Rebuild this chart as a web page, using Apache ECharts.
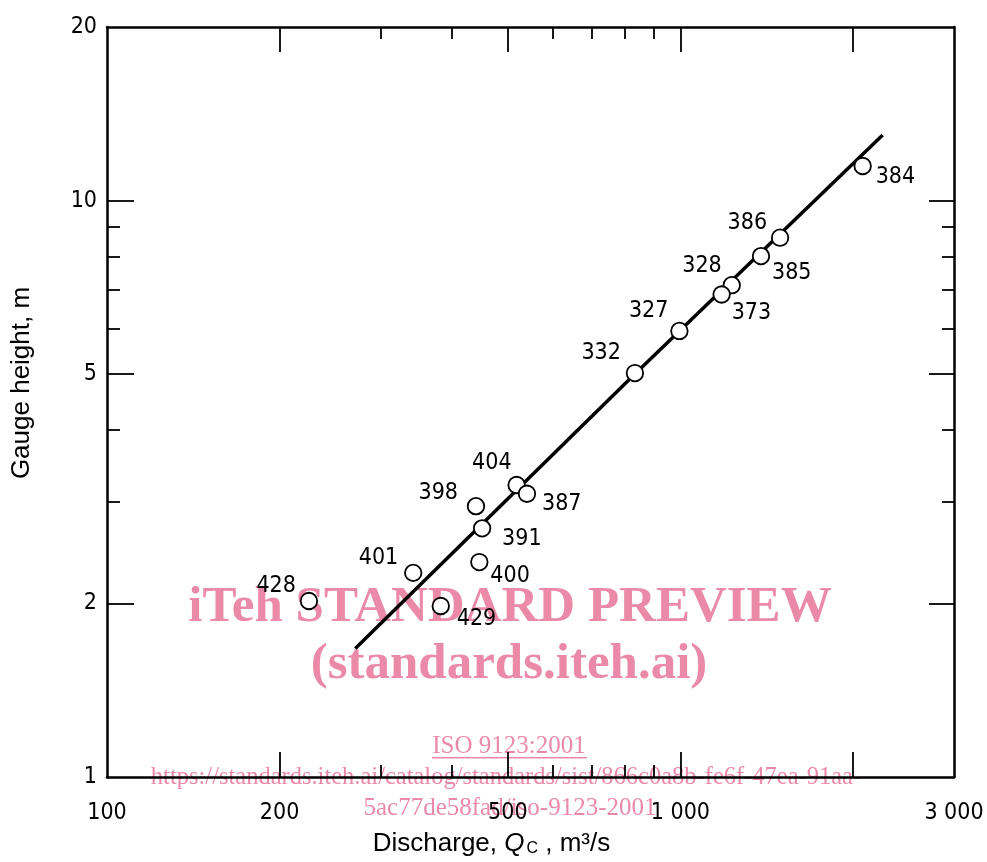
<!DOCTYPE html>
<html>
<head>
<meta charset="utf-8">
<script src="https://cdn.jsdelivr.net/npm/echarts@6/dist/echarts.min.js"></script>
<style>
  html, body { margin: 0; padding: 0; background: #fff; }
  #chart { width: 987px; height: 862px; }
</style>
</head>
<body>
<div id="chart"></div>
<script>
// ---- data ----
const xTickValues = [100, 200, 500, 1000, 3000];
const xTickLabels = ['100', '200', '500', '1 000', '3 000'];
const xMajorTicks = [200, 500, 1000, 2000];
const xMinorTicks = [300, 400, 600, 700, 800, 900];
const yTickValues = [1, 2, 5, 10, 20];
const yTickLabels = ['1', '2', '5', '10', '20'];
const yMajorTicks = [2, 5, 10];
const yMinorTicks = [3, 4, 6, 7, 8, 9];

const pointIds = ['384', '386', '385', '328', '373', '327', '332', '404', '387', '398', '391', '400', '401', '428', '429'];
const pointQ = [2079, 1492, 1382, 1229, 1180, 996, 833, 518, 540, 440, 451, 446, 342, 225, 382];
const pointH = [11.48, 8.62, 8.01, 7.13, 6.87, 5.94, 5.02, 3.21, 3.10, 2.95, 2.70, 2.36, 2.26, 2.02, 1.98];

const curveQ = [271, 833, 2253];
const curveH = [1.67, 5.0, 12.99];

// ---- label placement (style only) ----
const labelPlace = {
  '384': ['left', 13, 11], '386': ['right', -13, -15], '385': ['left', 11, 17],
  '328': ['right', -10, -19], '373': ['left', 10, 19], '327': ['right', -11, -20],
  '332': ['right', -14, -20], '404': ['right', -5, -22], '387': ['left', 15, 10],
  '398': ['right', -18, -13], '391': ['left', 20, 11], '400': ['left', 11, 14],
  '401': ['right', -15, -15], '428': ['right', -13, -15], '429': ['left', 16, 13]
};

const tickFont = "'Liberation Sans Narrow', 'DejaVu Sans Condensed', 'DejaVu Sans', sans-serif";
const titleFont = "'Liberation Sans', Arial, sans-serif";
const serifFont = "'Liberation Serif', 'Times New Roman', serif";
const pink = '#ea8aa8';

const chart = echarts.init(document.getElementById('chart'), null, { renderer: 'canvas' });

function xLabel(v) { const i = xTickValues.indexOf(v); return i >= 0 ? xTickLabels[i] : ''; }
function yLabel(v) { const i = yTickValues.indexOf(v); return i >= 0 ? yTickLabels[i] : ''; }

function makeAxis(kind, pos, ticks, len, withLine, withLabels) {
  const isX = kind === 'x';
  const ax = {
    type: 'log', logBase: 10,
    min: isX ? 100 : 1, max: isX ? 3000 : 20,
    position: pos,
    z: 5,
    axisLine: { show: withLine, onZero: false, lineStyle: { color: '#000', width: 2.5 } },
    axisTick: { show: true, inside: true, length: len, customValues: ticks, lineStyle: { color: '#000', width: 1.8 } },
    axisLabel: { show: false },
    splitLine: { show: false },
    minorTick: { show: false },
    minorSplitLine: { show: false }
  };
  if (withLabels) {
    ax.axisLabel = {
      show: true,
      customValues: isX ? xTickValues : yTickValues,
      formatter: isX ? xLabel : yLabel,
      color: '#000', fontFamily: tickFont, fontSize: 23,
      margin: isX ? 25 : 10,
      showMinLabel: true, showMaxLabel: true
    };
  }
  return ax;
}

const xAxes = [
  makeAxis('x', 'bottom', xMajorTicks, 25, true, true),
  makeAxis('x', 'bottom', xMinorTicks, 12, false, false),
  makeAxis('x', 'top', xMajorTicks, 25, true, false),
  makeAxis('x', 'top', xMinorTicks, 12, false, false)
];
xAxes[0].name = 'Discharge, {q|Q}{s|C} , m³/s';
xAxes[0].nameLocation = 'middle';
xAxes[0].nameGap = 54;
xAxes[0].nameTextStyle = {
  color: '#000', fontFamily: titleFont, fontSize: 26, padding: [0, 78, 0, 0],
  rich: {
    q: { fontFamily: titleFont, fontSize: 26, fontStyle: 'italic', color: '#000' },
    s: { fontFamily: titleFont, fontSize: 16, color: '#000', verticalAlign: 'bottom', padding: [0, 0, 0, 2] }
  }
};

const yAxes = [
  makeAxis('y', 'left', yMajorTicks, 27, true, true),
  makeAxis('y', 'left', yMinorTicks, 13, false, false),
  makeAxis('y', 'right', yMajorTicks, 25, true, false),
  makeAxis('y', 'right', yMinorTicks, 12, false, false)
];
yAxes[0].name = 'Gauge height, m';
yAxes[0].nameLocation = 'middle';
yAxes[0].nameGap = 72;
yAxes[0].nameTextStyle = { color: '#000', fontFamily: titleFont, fontSize: 26, padding: [0, 0, 0, 38] };

const pointData = pointIds.map((id, i) => {
  const p = labelPlace[id];
  return {
    value: [pointQ[i], pointH[i]],
    name: id,
    label: { align: p[0], offset: [p[1], p[2]] }
  };
});

chart.setOption({
  animation: false,
  backgroundColor: '#fff',
  grid: { left: 107, right: 33, top: 27, bottom: 81 },
  xAxis: xAxes,
  yAxis: yAxes,
  series: [
    {
      type: 'line',
      name: 'rating curve',
      xAxisIndex: 0, yAxisIndex: 0,
      data: curveQ.map((q, i) => [q, curveH[i]]),
      showSymbol: false, symbol: 'none',
      lineStyle: { color: '#000', width: 3.5 },
      z: 6
    },
    {
      type: 'scatter',
      name: 'gaugings',
      xAxisIndex: 0, yAxisIndex: 0,
      data: pointData,
      symbol: 'circle', symbolSize: 16.5,
      itemStyle: { color: '#fff', borderColor: '#000', borderWidth: 1.8, opacity: 1 },
      label: {
        show: true, position: 'inside', formatter: '{b}',
        color: '#000', fontFamily: tickFont, fontSize: 23, verticalAlign: 'middle'
      },
      z: 7
    }
  ],
  graphic: {
    elements: [
      { type: 'group', z: 1, silent: true, children: [
        { type: 'text', x: 510, y: 608,
          style: { text: 'iTeh STANDARD PREVIEW', fill: pink, font: "bold 51px " + serifFont, align: 'center', verticalAlign: 'middle' } },
        { type: 'text', x: 509, y: 665,
          style: { text: '(standards.iteh.ai)', fill: pink, font: "bold 51px " + serifFont, align: 'center', verticalAlign: 'middle' } },
        { type: 'text', x: 509, y: 746,
          style: { text: 'ISO 9123:2001', fill: pink, font: "25px " + serifFont, align: 'center', verticalAlign: 'middle' } },
        { type: 'rect', shape: { x: 432, y: 757, width: 155, height: 1.5 }, style: { fill: pink } },
        { type: 'text', x: 506, y: 778,
          style: { text: 'https://standards.iteh.ai/catalog/standards/sist/866c0a8b-fe6f-47ea-91aa-', fill: pink, font: "24.5px " + serifFont, align: 'center', verticalAlign: 'middle' } },
        { type: 'text', x: 510, y: 808,
          style: { text: '5ac77de58fad/iso-9123-2001', fill: pink, font: "25px " + serifFont, align: 'center', verticalAlign: 'middle' } }
      ] }
    ]
  }
});
</script>
</body>
</html>
